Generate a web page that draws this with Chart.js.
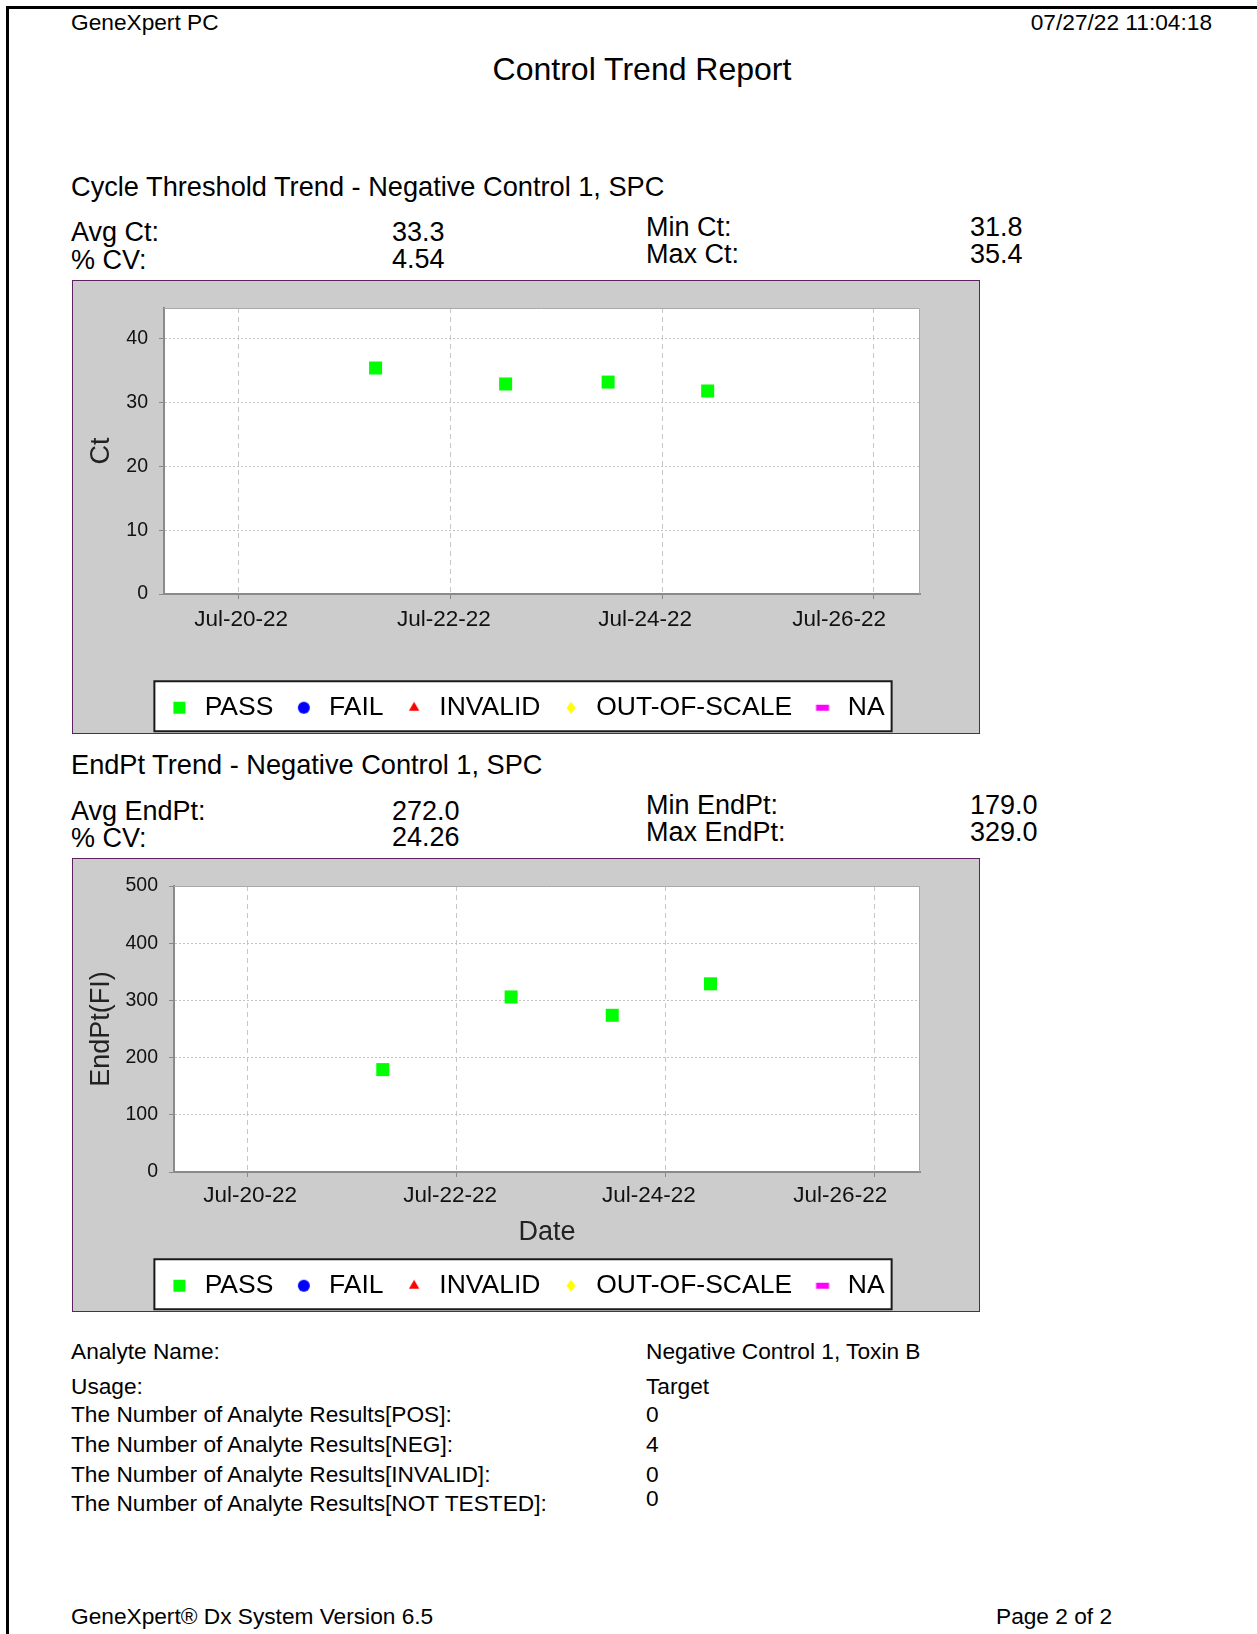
<!DOCTYPE html>
<html>
<head>
<meta charset="utf-8">
<title>Control Trend Report</title>
<script src="https://cdn.jsdelivr.net/npm/chart.js@4.4.1/dist/chart.umd.min.js"></script>
<style>
  html, body { margin: 0; padding: 0; background: #fff; }
  body { width: 1257px; height: 1634px; position: relative; overflow: hidden;
         font-family: "Liberation Sans", Arial, sans-serif; color: #000; }
  .frame { position: absolute; left: 6px; top: 6px; right: -10px; bottom: -10px;
           border-top: 3px solid #000; border-left: 3px solid #000; }
  .t { position: absolute; line-height: 1; white-space: nowrap; }
  .s { font-size: 27px; }
  .r { font-size: 22.7px; }
  .panel { position: absolute; left: 72px; width: 906px; height: 452px;
           border: 1px solid #5e235e; background: #cccccc; }
  .panel canvas { display: block; }
</style>
</head>
<body>
<div class="frame"></div>

<div class="t r" style="left:71px;top:11px">GeneXpert PC</div>
<div class="t r" style="right:45px;top:11px">07/27/22 11:04:18</div>
<div class="t" style="left:642px;top:52.5px;font-size:32px;transform:translateX(-50%)">Control Trend Report</div>

<div class="t" style="left:71px;top:173px;font-size:27.2px">Cycle Threshold Trend - Negative Control 1, SPC</div>
<div class="t s" style="left:71px;top:218.5px">Avg Ct:</div>
<div class="t s" style="left:71px;top:246.5px">% CV:</div>
<div class="t s" style="left:392px;top:218.5px">33.3</div>
<div class="t s" style="left:392px;top:246px">4.54</div>
<div class="t s" style="left:646px;top:214px">Min Ct:</div>
<div class="t s" style="left:646px;top:240.5px">Max Ct:</div>
<div class="t s" style="left:970px;top:214px">31.8</div>
<div class="t s" style="left:970px;top:240.5px">35.4</div>
<div class="panel" style="top:280px"><canvas id="ctChart" width="906" height="452"></canvas></div>

<div class="t" style="left:71px;top:751px;font-size:27.2px">EndPt Trend - Negative Control 1, SPC</div>
<div class="t s" style="left:71px;top:797.5px">Avg EndPt:</div>
<div class="t s" style="left:71px;top:824.5px">% CV:</div>
<div class="t s" style="left:392px;top:797.5px">272.0</div>
<div class="t s" style="left:392px;top:824px">24.26</div>
<div class="t s" style="left:646px;top:792px">Min EndPt:</div>
<div class="t s" style="left:646px;top:818.5px">Max EndPt:</div>
<div class="t s" style="left:970px;top:792px">179.0</div>
<div class="t s" style="left:970px;top:818.5px">329.0</div>
<div class="panel" style="top:858px"><canvas id="endPtChart" width="906" height="452"></canvas></div>

<div class="t r" style="left:71px;top:1339.5px">Analyte Name:</div>
<div class="t r" style="left:71px;top:1374.5px">Usage:</div>
<div class="t r" style="left:71px;top:1403px">The Number of Analyte Results[POS]:</div>
<div class="t r" style="left:71px;top:1433px">The Number of Analyte Results[NEG]:</div>
<div class="t r" style="left:71px;top:1462.5px">The Number of Analyte Results[INVALID]:</div>
<div class="t r" style="left:71px;top:1491.5px">The Number of Analyte Results[NOT TESTED]:</div>
<div class="t r" style="left:646px;top:1339.5px">Negative Control 1, Toxin B</div>
<div class="t r" style="left:646px;top:1374.5px">Target</div>
<div class="t r" style="left:646px;top:1403px">0</div>
<div class="t r" style="left:646px;top:1433px">4</div>
<div class="t r" style="left:646px;top:1462.5px">0</div>
<div class="t r" style="left:646px;top:1486.5px">0</div>

<div class="t r" style="left:71px;top:1605px">GeneXpert® Dx System Version 6.5</div>
<div class="t r" style="left:996px;top:1605px">Page 2 of 2</div>

<script>
// runs
const runDates = ['2022-07-21T07:00', '2022-07-22T12:30', '2022-07-23T11:45', '2022-07-24T10:20'];
const runStatus = ['PASS', 'PASS', 'PASS', 'PASS'];
const ctValues = [35.4, 32.9, 33.2, 31.8];
const endPtValues = [179, 306, 274, 329];

const ctTicks = [0, 10, 20, 30, 40];
const endPtTicks = [0, 100, 200, 300, 400, 500];
// grid lines sit on these days, the labels are printed a bit off them
const dateTicks = ['2022-07-20', '2022-07-22', '2022-07-24', '2022-07-26'];
const dateLabelAt = ['2022-07-20T00:30', '2022-07-21T22:30', '2022-07-23T20:10', '2022-07-25T16:10'];
const dateTickLabels = ['Jul-20-22', 'Jul-22-22', 'Jul-24-22', 'Jul-26-22'];
const dateRange = ['2022-07-19T07:00', '2022-07-26T10:30'];

const statusNames = ['PASS', 'FAIL', 'INVALID', 'OUT-OF-SCALE', 'NA'];
const statusColors = ['#00ff00', '#0000ff', '#ff0000', '#ffff00', '#ff00ff'];
const statusStyles = ['rect', 'circle', 'triangle', 'rectRot', 'rect'];

const FONT = '"Liberation Sans", Arial, sans-serif';

function toMs(s) {
  return Date.parse((s.length === 10 ? s + 'T00:00' : s) + ':00Z');
}

// little legend markers, each drawn with Chart.js' own point helper
const iconSizes = [[8.5, 0], [6, 0], [6, 0], [6, 9], [4.25, 13]];
function makeIcon(i) {
  const c = document.createElement('canvas');
  c.width = 16; c.height = 14;
  const g = c.getContext('2d');
  g.fillStyle = statusColors[i];
  const opts = { pointStyle: statusStyles[i], radius: iconSizes[i][0], rotation: 0, borderWidth: 0 };
  if (Chart.helpers.drawPointLegend) Chart.helpers.drawPointLegend(g, opts, 8, 7, iconSizes[i][1] || undefined);
  else Chart.helpers.drawPoint(g, opts, 8, 7);
  return c;
}
const icons = statusNames.map((n, i) => makeIcon(i));

// white plot area, plot outline and the boxed legend
const panelPlugin = {
  id: 'panel',
  beforeDraw(chart) {
    const { ctx, chartArea: a, legend } = chart;
    ctx.save();
    ctx.fillStyle = '#fff';
    ctx.fillRect(a.left, a.top, a.right - a.left, a.bottom - a.top);
    const hb = legend.legendHitBoxes;
    if (hb && hb.length) {
      const last = hb[hb.length - 1];
      const x0 = hb[0].left - 13;
      const x1 = last.left + last.width + 7;
      const cy = hb[0].top + hb[0].height / 2;
      ctx.fillRect(x0, cy - 26.5, x1 - x0, 50);
      ctx.strokeStyle = '#1a1a1a';
      ctx.lineWidth = 2;
      ctx.strokeRect(x0, cy - 26.5, x1 - x0, 50);
    }
    ctx.restore();
  },
  beforeDatasetsDraw(chart) {
    const { ctx, chartArea: a } = chart;
    ctx.save();
    ctx.strokeStyle = '#a8a8a8';
    ctx.lineWidth = 1;
    ctx.beginPath();
    ctx.moveTo(a.left, a.top + 0.5);
    ctx.lineTo(a.right - 0.5, a.top + 0.5);
    ctx.lineTo(a.right - 0.5, a.bottom);
    ctx.stroke();
    ctx.restore();
  }
};

function trendChart(id, values, yTicks, yMax, yTitle, axisWidth, showDate, labelPad) {
  const xs = runDates.map(toMs);
  const datasets = statusNames.map((name, i) => ({
    label: name,
    data: xs.map((x, j) => ({ x: x, y: values[j] })).filter((p, j) => runStatus[j] === name),
    xAxisID: 'x',
    yAxisID: 'y',
    pointStyle: statusStyles[i],
    pointRadius: 9.2,
    pointHoverRadius: 9.2,
    backgroundColor: statusColors[i],
    borderWidth: 0,
    showLine: false
  }));
  const xMin = toMs(dateRange[0]);
  const xMax = toMs(dateRange[1]);

  return new Chart(document.getElementById(id), {
    type: 'scatter',
    data: { datasets: datasets },
    plugins: [panelPlugin],
    options: {
      responsive: false,
      animation: false,
      devicePixelRatio: 1,
      layout: { padding: { top: 27, bottom: 2, left: 0, right: 0 } },
      scales: {
        // date axis: grid lines and tick marks
        x: {
          type: 'linear',
          weight: 0,
          min: xMin,
          max: xMax,
          afterBuildTicks: s => { s.ticks = dateTicks.map(d => ({ value: toMs(d) })); },
          afterFit: s => { s.height = 5; },
          ticks: { display: false },
          grid: { color: '#c6c6c6', lineWidth: 1, tickColor: '#8a8a8a', tickLength: 5, tickWidth: 1 },
          border: { display: true, color: '#8a8a8a', width: 2, dash: [5, 4] }
        },
        // date axis: printed labels and the axis title
        xl: {
          type: 'linear',
          position: 'bottom',
          weight: 1,
          min: xMin,
          max: xMax,
          afterBuildTicks: s => { s.ticks = dateLabelAt.map(d => ({ value: toMs(d) })); },
          afterFit: s => { s.height = 77; },
          ticks: {
            callback: (v, i) => dateTickLabels[i],
            autoSkip: false, maxRotation: 0,
            padding: labelPad,
            color: '#111',
            font: { family: FONT, size: 22.5 }
          },
          grid: { display: false, drawTicks: false },
          border: { display: false },
          title: {
            display: showDate, text: 'Date', color: '#222',
            font: { family: FONT, size: 27 },
            padding: { top: 0, bottom: 5.7 }
          }
        },
        y: {
          min: 0,
          max: yMax,
          afterBuildTicks: s => { s.ticks = yTicks.map(v => ({ value: v })); },
          afterFit: s => { s.width = axisWidth; },
          ticks: { padding: 11, color: '#111', font: { family: FONT, size: 19.5 } },
          grid: { color: '#c2c2c2', lineWidth: 1, tickColor: '#8a8a8a', tickLength: 5, tickWidth: 1 },
          border: { display: true, color: '#8a8a8a', width: 2, dash: [2, 2] },
          title: {
            display: true, text: yTitle, color: '#222',
            font: { family: FONT, size: 27 },
            padding: { top: 12, bottom: 0 }
          }
        },
        yR: {
          position: 'right',
          min: 0, max: 1,
          afterFit: s => { s.width = 59; },
          ticks: { display: false },
          grid: { display: false, drawTicks: false },
          border: { display: false }
        }
      },
      plugins: {
        tooltip: { enabled: false },
        legend: {
          position: 'bottom',
          labels: {
            usePointStyle: true,
            boxWidth: 24,
            boxHeight: 12,
            padding: 18.5,
            color: '#111',
            font: { family: FONT, size: 26.5 },
            generateLabels: () => statusNames.map((name, i) => ({
              text: name,
              pointStyle: icons[i],
              fillStyle: statusColors[i],
              strokeStyle: statusColors[i],
              lineWidth: 0,
              hidden: false,
              datasetIndex: i
            }))
          }
        }
      }
    }
  });
}

trendChart('ctChart', ctValues, ctTicks, 44.8, 'Ct', 91, false, 7);
trendChart('endPtChart', endPtValues, endPtTicks, 500, 'EndPt(FI)', 101, true, 5);
</script>
</body>
</html>
